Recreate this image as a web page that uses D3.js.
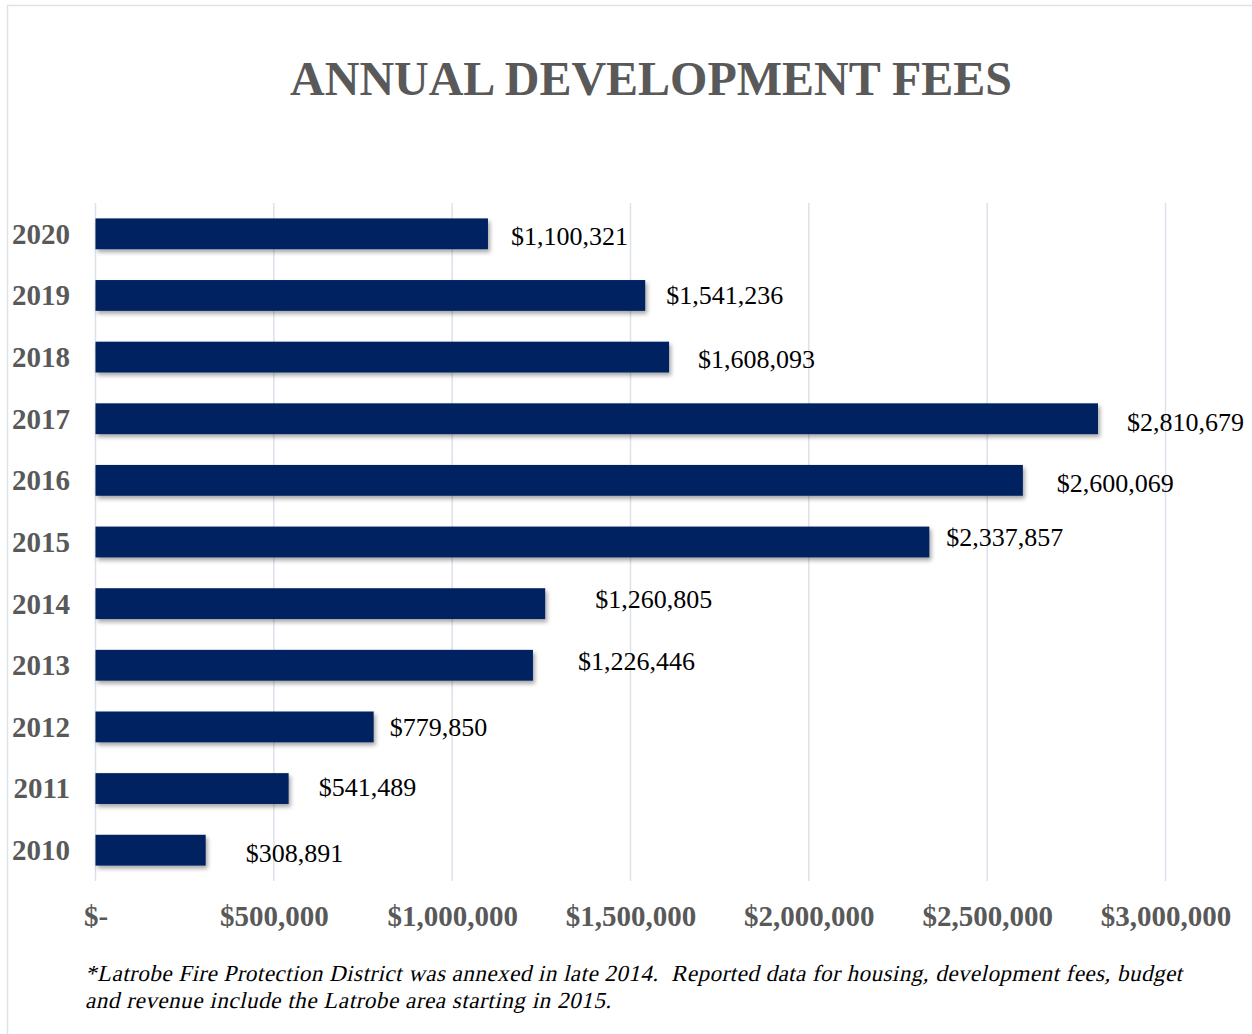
<!DOCTYPE html>
<html>
<head>
<meta charset="utf-8">
<script src="https://cdn.jsdelivr.net/npm/d3@7"></script>
<style>
  body { margin: 0; background: #fff; }
  svg { display: block; font-family: "Liberation Serif", serif; }
</style>
</head>
<body>
<svg id="chart" width="1252" height="1034"></svg>
<script>
// chart data
const years = ["2020", "2019", "2018", "2017", "2016", "2015", "2014", "2013", "2012", "2011", "2010"];
const fees = [1100321, 1541236, 1608093, 2810679, 2600069, 2337857, 1260805, 1226446, 779850, 541489, 308891];
const xTicks = [0, 500000, 1000000, 1500000, 2000000, 2500000, 3000000];
const footnote = [
  "*Latrobe Fire Protection District was annexed in late 2014.  Reported data for housing, development fees, budget",
  "and revenue include the Latrobe area starting in 2015."
];

// the data labels were dragged by hand in the original, so nudge them the same way
const labelDx = [23, 21, 29, 29, 34, 17, 50, 45, 16, 30, 40];
const labelDy = [2, 0, 2, 3, 3, -5, -4, -4, 0, -1, 3];
// footnote line widths as set in the source document
const footWidth = [1097, 526];

const svg = d3.select("#chart");

// outer frame
svg.append("path")
  .attr("d", "M7.5,1034 V5.5 H1252")
  .attr("fill", "none")
  .attr("stroke", "#dfe3e8")
  .attr("stroke-width", 1.5);

// soft shadow under the bars
const defs = svg.append("defs");
defs.append("filter")
  .attr("id", "shadow")
  .attr("x", "-5%").attr("y", "-30%")
  .attr("width", "110%").attr("height", "180%")
  .append("feDropShadow")
  .attr("dx", 2).attr("dy", 3)
  .attr("stdDeviation", 2)
  .attr("flood-color", "#000")
  .attr("flood-opacity", 0.35);

const x = d3.scaleLinear()
  .domain([0, 3000000])
  .range([95.5, 1165.5]);

const y = d3.scaleBand()
  .domain(years)
  .range([203, 881])
  .paddingInner(0.5)
  .paddingOuter(0.25);

// title
svg.append("text")
  .attr("x", 651)
  .attr("y", 95)
  .attr("text-anchor", "middle")
  .style("font-size", "48px")
  .style("font-weight", "bold")
  .style("fill", "#595959")
  .text("ANNUAL DEVELOPMENT FEES");

// vertical gridlines
svg.append("g")
  .selectAll("line")
  .data(xTicks)
  .join("line")
  .attr("x1", d => x(d)).attr("x2", d => x(d))
  .attr("y1", 203).attr("y2", 881)
  .attr("stroke", "#dde2ea")
  .attr("stroke-width", 1.5);

// x axis labels
const fmt = d3.format("$,");
const xAxis = d3.axisBottom(x)
  .tickValues(xTicks)
  .tickSize(0)
  .tickPadding(0)
  .tickFormat(d => d === 0 ? "$-" : fmt(d));

svg.append("g")
  .attr("transform", "translate(0,905)")
  .call(xAxis)
  .call(g => g.select(".domain").remove())
  .selectAll("text")
  .style("font-family", "Liberation Serif, serif")
  .style("font-size", "29px")
  .style("font-weight", "bold")
  .style("fill", "#595959");

// y axis labels
const yAxis = d3.axisLeft(y).tickSize(0).tickPadding(0);
svg.append("g")
  .attr("transform", "translate(70,0)")
  .call(yAxis)
  .call(g => g.select(".domain").remove())
  .selectAll("text")
  .attr("dy", "0.34em")
  .style("font-family", "Liberation Serif, serif")
  .style("font-size", "29px")
  .style("font-weight", "bold")
  .style("fill", "#595959");

// bars
svg.append("g")
  .selectAll("rect")
  .data(fees)
  .join("rect")
  .attr("x", x(0))
  .attr("y", (d, i) => y(years[i]))
  .attr("width", d => x(d) - x(0))
  .attr("height", y.bandwidth())
  .attr("fill", "#002060")
  .attr("filter", "url(#shadow)");

// value labels
svg.append("g")
  .selectAll("text")
  .data(fees)
  .join("text")
  .attr("x", (d, i) => x(d) + labelDx[i])
  .attr("y", (d, i) => y(years[i]) + y.bandwidth() / 2 + labelDy[i])
  .attr("dy", "0.34em")
  .style("font-size", "26px")
  .style("fill", "#000")
  .text(d => fmt(d));

// footnote - no serif italic face installed, so slant the regular one
svg.append("g")
  .selectAll("text")
  .data(footnote)
  .join("text")
  .attr("transform", (d, i) => `translate(85,${981 + i * 27}) skewX(-13)`)
  .attr("textLength", (d, i) => footWidth[i])
  .attr("lengthAdjust", "spacing")
  .style("font-size", "23px")
  .style("white-space", "pre")
  .style("fill", "#000")
  .text(d => d);
</script>
</body>
</html>
